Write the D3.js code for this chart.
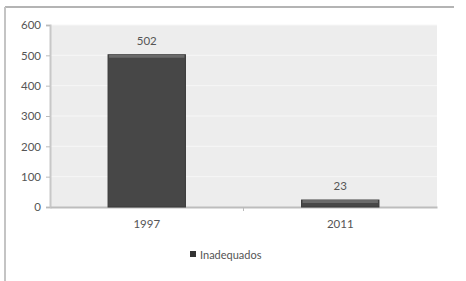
<!DOCTYPE html>
<html>
<head>
<meta charset="utf-8">
<script src="https://cdn.jsdelivr.net/npm/d3@7"></script>
<style>
  body { margin: 0; background: #fff; }
  text { font-family: Lato, "DejaVu Sans", sans-serif; }
</style>
</head>
<body>
<svg id="chart" width="466" height="281"></svg>
<script>
const categories = ['1997', '2011'];
const values = [502, 23];
const yTicks = [0, 100, 200, 300, 400, 500, 600];
const seriesName = 'Inadequados';

const svg = d3.select('#chart');
const margin = { left: 50, top: 25, right: 29, bottom: 74 };
const width = 466 - margin.left - margin.right;
const height = 281 - margin.top - margin.bottom;

// outer frame (top + left only, as in the picture)
svg.append('line').attr('x1', 5).attr('x2', 454).attr('y1', 7).attr('y2', 7)
    .attr('stroke', '#b4b4b4').attr('stroke-width', 2);
svg.append('line').attr('x1', 5).attr('x2', 5).attr('y1', 7).attr('y2', 281)
    .attr('stroke', '#c4c4c4').attr('stroke-width', 2);

const g = svg.append('g').attr('transform', `translate(${margin.left},${margin.top})`);

const x = d3.scaleBand().domain(categories).range([0, width]).paddingInner(0.6).paddingOuter(0.3);
const y = d3.scaleLinear().domain([0, 600]).range([height, 0]);

// plot background
g.append('rect').attr('width', width).attr('height', height).attr('fill', '#ededed');

// faint gridlines
g.selectAll('.grid').data(yTicks.slice(1)).enter().append('line')
    .attr('x1', 0).attr('x2', width)
    .attr('y1', d => y(d)).attr('y2', d => y(d))
    .attr('stroke', '#f7f7f7').attr('stroke-width', 1);

// y axis
const yAxis = g.append('g').call(d3.axisLeft(y).tickValues(yTicks).tickSize(4).tickPadding(5));
yAxis.select('.domain').attr('stroke', '#c8c8c8').attr('stroke-width', 2);
yAxis.selectAll('.tick line').attr('stroke', '#bbb');
yAxis.selectAll('text').attr('fill', '#555').attr('font-size', 11.5);

// x axis
const xAxis = g.append('g').attr('transform', `translate(0,${height})`)
    .call(d3.axisBottom(x).tickSize(0).tickPadding(13));
xAxis.select('.domain').attr('stroke', '#bdbdbd').attr('stroke-width', 2);
xAxis.selectAll('text').attr('fill', '#555').attr('font-size', 11.5);
g.append('line').attr('x1', width / 2).attr('x2', width / 2)
    .attr('y1', height).attr('y2', height + 4).attr('stroke', '#bbb');

// bars
const bars = g.selectAll('.bar').data(values).enter().append('g');
bars.append('rect')
    .attr('x', (d, i) => x(categories[i]))
    .attr('y', d => y(d))
    .attr('width', x.bandwidth())
    .attr('height', d => height - y(d))
    .attr('fill', '#474747')
    .attr('stroke', '#3a3a3a');
bars.append('rect')
    .attr('x', (d, i) => x(categories[i]) + 1)
    .attr('y', d => y(d))
    .attr('width', x.bandwidth() - 2)
    .attr('height', 3)
    .attr('fill', '#6a6a6a');

// value labels
g.selectAll('.val').data(values).enter().append('text')
    .attr('x', (d, i) => x(categories[i]) + x.bandwidth() / 2)
    .attr('y', d => y(d) - 10)
    .attr('text-anchor', 'middle')
    .attr('fill', '#555').attr('font-size', 11.5)
    .text(d => d);

// legend
const legend = svg.append('g').attr('transform', 'translate(190,255)');
legend.append('rect').attr('x', 0).attr('y', -4).attr('width', 6).attr('height', 6).attr('fill', '#333');
legend.append('text').attr('x', 10).attr('y', 0).attr('dy', '0.35em')
    .attr('fill', '#555').attr('font-size', 11).text(seriesName);
</script>
</body>
</html>
